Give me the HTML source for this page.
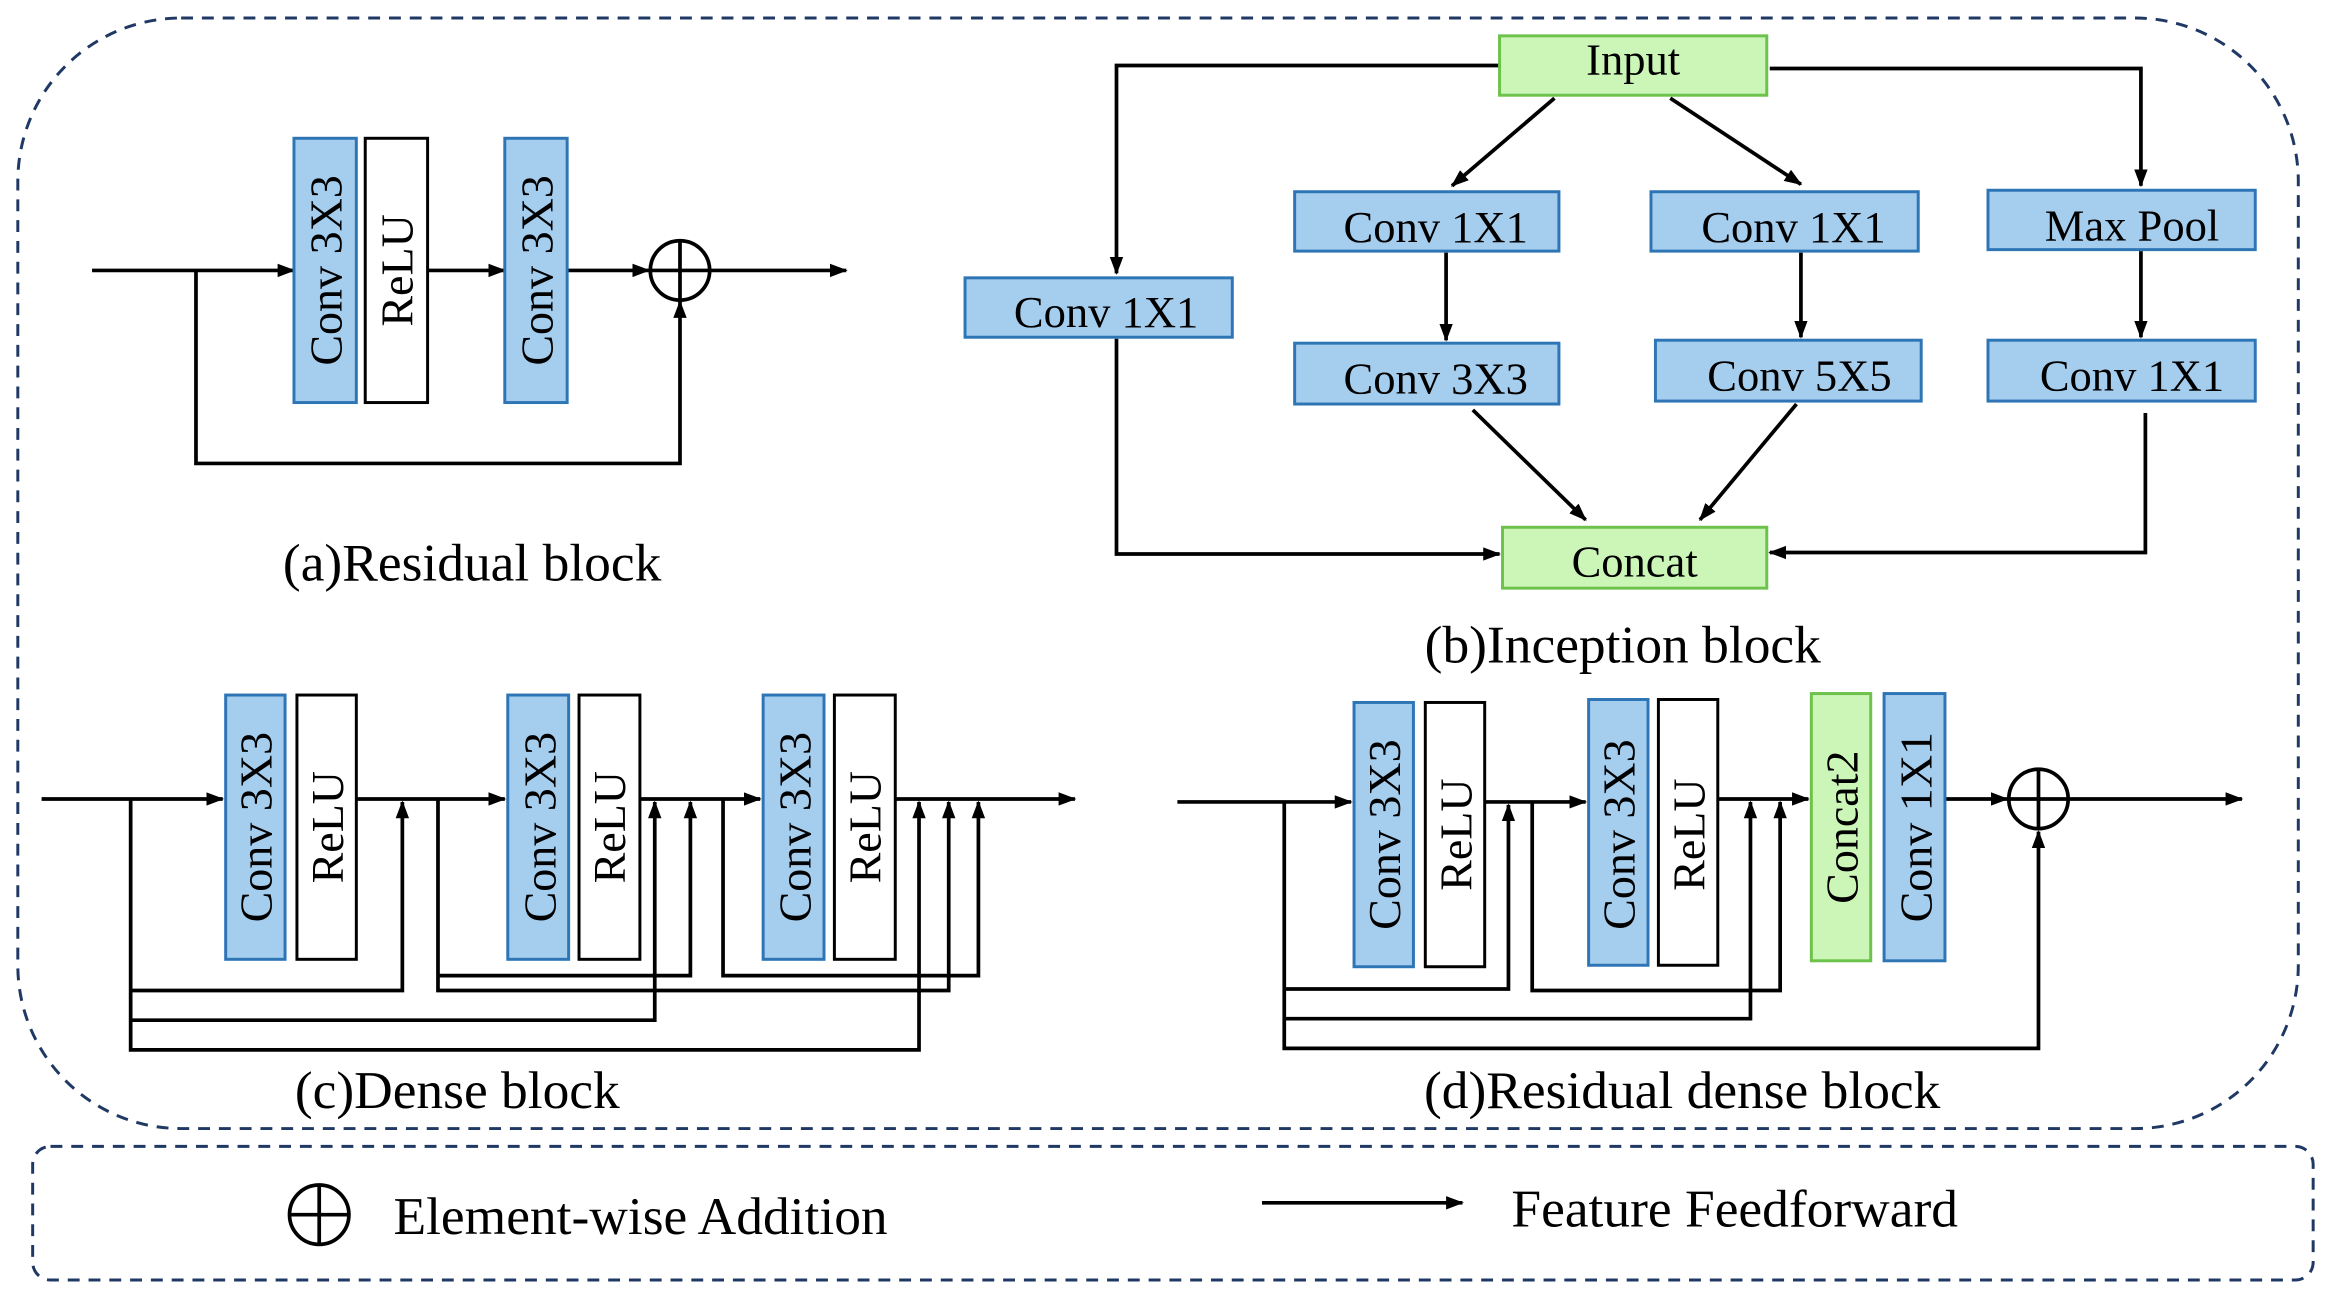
<!DOCTYPE html>
<html><head><meta charset="utf-8"><style>
html,body{margin:0;padding:0;background:#fff;}
svg{display:block;}
</style></head><body>
<svg width="2328" height="1301" viewBox="0 0 1568 876" xmlns="http://www.w3.org/2000/svg" font-family="'Liberation Serif', serif">
<defs>
<marker id="a" markerWidth="12" markerHeight="12" refX="11" refY="6" orient="auto" markerUnits="userSpaceOnUse">
<path d="M0,1.5 L12,6 L0,10.5 Z" fill="#000"/></marker>
</defs>
<g fill="none" stroke="#1f3864" stroke-width="2" stroke-dasharray="8,6">
<rect x="12" y="12" width="1536" height="748" rx="110" ry="110"/>
<rect x="22" y="772" width="1536" height="90" rx="12" ry="12"/>
</g>
<g stroke="#000" stroke-width="2.5" fill="none">
<line x1="62" y1="182" x2="198" y2="182" marker-end="url(#a)"/>
<line x1="288" y1="182" x2="340" y2="182" marker-end="url(#a)"/>
<line x1="382" y1="182" x2="437" y2="182" marker-end="url(#a)"/>
<line x1="479" y1="182" x2="570" y2="182" marker-end="url(#a)"/>
<polyline points="132,182 132,312 458,312 458,203" marker-end="url(#a)"/>
<circle cx="458" cy="182" r="20"/>
<line x1="438" y1="182" x2="478" y2="182"/><line x1="458" y1="162" x2="458" y2="202"/>
<polyline points="1010,44 752,44 752,184" marker-end="url(#a)"/>
<polyline points="1192,46 1442,46 1442,125" marker-end="url(#a)"/>
<line x1="1047" y1="66" x2="978" y2="125" marker-end="url(#a)"/>
<line x1="1125" y1="66" x2="1213" y2="124" marker-end="url(#a)"/>
<line x1="974" y1="170" x2="974" y2="229" marker-end="url(#a)"/>
<line x1="1213" y1="170" x2="1213" y2="227" marker-end="url(#a)"/>
<line x1="1442" y1="169" x2="1442" y2="227" marker-end="url(#a)"/>
<line x1="992" y1="276" x2="1068" y2="350" marker-end="url(#a)"/>
<line x1="1210" y1="272" x2="1145" y2="350" marker-end="url(#a)"/>
<polyline points="752,228 752,373 1010,373" marker-end="url(#a)"/>
<polyline points="1445,278 1445,372 1192,372" marker-end="url(#a)"/>
<line x1="28" y1="538" x2="150" y2="538" marker-end="url(#a)"/>
<line x1="240" y1="538" x2="340" y2="538" marker-end="url(#a)"/>
<line x1="431" y1="538" x2="512" y2="538" marker-end="url(#a)"/>
<line x1="603" y1="538" x2="724" y2="538" marker-end="url(#a)"/>
<polyline points="88,538 88,707 619,707 619,540" marker-end="url(#a)"/>
<polyline points="88,667 271,667 271,540" marker-end="url(#a)"/>
<polyline points="88,687 441,687 441,540" marker-end="url(#a)"/>
<polyline points="295,538 295,667 639,667 639,540" marker-end="url(#a)"/>
<polyline points="295,657 465,657 465,540" marker-end="url(#a)"/>
<polyline points="487,538 487,657 659,657 659,540" marker-end="url(#a)"/>
<line x1="793" y1="540" x2="910" y2="540" marker-end="url(#a)"/>
<line x1="1000" y1="540" x2="1068" y2="540" marker-end="url(#a)"/>
<line x1="1157" y1="538" x2="1218" y2="538" marker-end="url(#a)"/>
<line x1="1310" y1="538" x2="1352" y2="538" marker-end="url(#a)"/>
<line x1="1394" y1="538" x2="1510" y2="538" marker-end="url(#a)"/>
<polyline points="865,540 865,706 1373,706 1373,560" marker-end="url(#a)"/>
<polyline points="865,666 1016,666 1016,542" marker-end="url(#a)"/>
<polyline points="865,686 1179,686 1179,540" marker-end="url(#a)"/>
<polyline points="1032,540 1032,667 1199,667 1199,540" marker-end="url(#a)"/>
<circle cx="1373" cy="538" r="20"/>
<line x1="1353" y1="538" x2="1393" y2="538"/><line x1="1373" y1="518" x2="1373" y2="558"/>
<circle cx="215" cy="818" r="20"/>
<line x1="195" y1="818" x2="235" y2="818"/><line x1="215" y1="798" x2="215" y2="838"/>
<line x1="850" y1="810" x2="985" y2="810" marker-end="url(#a)"/>
</g>
<g stroke-width="2">
<g fill="#a5cdee" stroke="#2e75b6">
<rect x="198" y="93" width="42" height="178"/>
<rect x="340" y="93" width="42" height="178"/>
<rect x="650" y="187" width="180" height="40"/>
<rect x="872" y="129" width="178" height="40"/>
<rect x="1112" y="129" width="180" height="40"/>
<rect x="1339" y="128" width="180" height="40"/>
<rect x="872" y="231" width="178" height="41"/>
<rect x="1115" y="229" width="179" height="41"/>
<rect x="1339" y="229" width="180" height="41"/>
<rect x="152" y="468" width="40" height="178"/>
<rect x="342" y="468" width="41" height="178"/>
<rect x="514" y="468" width="41" height="178"/>
<rect x="912" y="473" width="40" height="178"/>
<rect x="1070" y="471" width="40" height="179"/>
<rect x="1269" y="467" width="41" height="180"/>
</g>
<g fill="#fff" stroke="#000">
<rect x="246" y="93" width="42" height="178"/>
<rect x="200" y="468" width="40" height="178"/>
<rect x="390" y="468" width="41" height="178"/>
<rect x="562" y="468" width="41" height="178"/>
<rect x="960" y="473" width="40" height="178"/>
<rect x="1117" y="471" width="40" height="179"/>
</g>
<g fill="#ccf5b8" stroke="#6cc24a">
<rect x="1010" y="24" width="180" height="40"/>
<rect x="1012" y="355" width="178" height="41"/>
<rect x="1220" y="467" width="40" height="180"/>
</g>
</g>
<g font-size="30" text-anchor="middle" fill="#000">
<text x="1100" y="50">Input</text>
<text x="745" y="220">Conv 1X1</text>
<text x="967" y="163">Conv 1X1</text>
<text x="1208" y="163">Conv 1X1</text>
<text x="1436" y="162">Max Pool</text>
<text x="967" y="265">Conv 3X3</text>
<text x="1212" y="263">Conv 5X5</text>
<text x="1436" y="263">Conv 1X1</text>
<text x="1101" y="388">Concat</text>
</g>
<g font-size="31" text-anchor="middle" fill="#000">
<text transform="translate(230,182) rotate(-90)">Conv 3X3</text>
<text transform="translate(278,182) rotate(-90)">ReLU</text>
<text transform="translate(372,182) rotate(-90)">Conv 3X3</text>
<text transform="translate(183,557) rotate(-90)">Conv 3X3</text>
<text transform="translate(231,557) rotate(-90)">ReLU</text>
<text transform="translate(374,557) rotate(-90)">Conv 3X3</text>
<text transform="translate(421,557) rotate(-90)">ReLU</text>
<text transform="translate(546,557) rotate(-90)">Conv 3X3</text>
<text transform="translate(593,557) rotate(-90)">ReLU</text>
<text transform="translate(943,562) rotate(-90)">Conv 3X3</text>
<text transform="translate(991,562) rotate(-90)">ReLU</text>
<text transform="translate(1101,562) rotate(-90)">Conv 3X3</text>
<text transform="translate(1148,562) rotate(-90)">ReLU</text>
<text transform="translate(1251,557) rotate(-90)">Concat2</text>
<text transform="translate(1301,557) rotate(-90)">Conv 1X1</text>
</g>
<g font-size="36" text-anchor="middle" fill="#000">
<text x="318" y="391">(a)Residual block</text>
<text x="1093" y="446">(b)Inception block</text>
<text x="308" y="746">(c)Dense block</text>
<text x="1133" y="746">(d)Residual dense block</text>
</g>
<g font-size="36" fill="#000">
<text x="265" y="831">Element-wise Addition</text>
<text x="1018" y="826">Feature Feedforward</text>
</g>
</svg>
</body></html>
